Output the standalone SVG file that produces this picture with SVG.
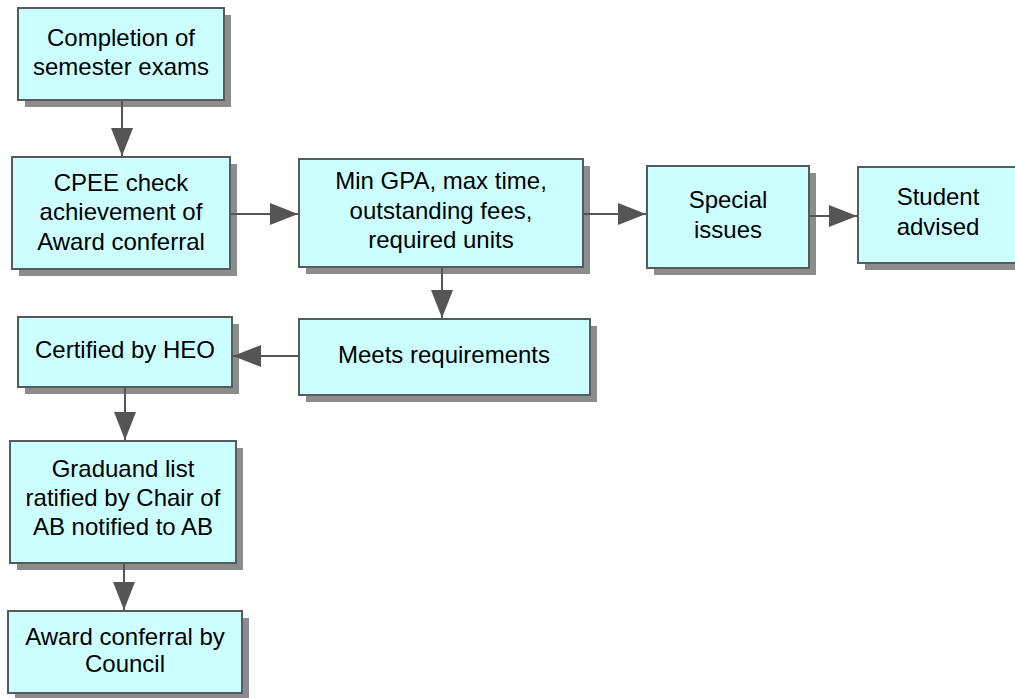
<svg xmlns="http://www.w3.org/2000/svg" width="1015" height="698" viewBox="0 0 1015 698">
<style>
.sh{fill:#8c8c8c}
.bx{fill:#ccffff;stroke:#555b5b;stroke-width:2}
.t{font-family:"Liberation Sans",Arial,sans-serif;font-size:24px;fill:#000;text-anchor:middle}
.c{stroke:#555;stroke-width:2;fill:none;marker-end:url(#ah)}
</style>
<defs>
<marker id="ah" markerUnits="userSpaceOnUse" markerWidth="28" markerHeight="22" refX="28" refY="11" orient="auto">
<path d="M0,0 L28,11 L0,22 Z" fill="#555"/>
</marker>
</defs>
<rect width="1015" height="698" fill="#fff"/>
<g id="n1">
<rect class="sh" x="25" y="15" width="206" height="92"/>
<rect class="bx" x="18" y="8" width="206" height="92"/>
<text class="t" x="121" y="46">Completion of</text>
<text class="t" x="121" y="75">semester exams</text>
</g>
<g id="n2">
<rect class="sh" x="19" y="164" width="218" height="112"/>
<rect class="bx" x="12" y="157" width="218" height="112"/>
<text class="t" x="121" y="191">CPEE check</text>
<text class="t" x="121" y="220">achievement of</text>
<text class="t" x="121" y="250">Award conferral</text>
</g>
<g id="n3">
<rect class="sh" x="306" y="166" width="284" height="108"/>
<rect class="bx" x="299" y="159" width="284" height="108"/>
<text class="t" x="441" y="189">Min GPA, max time,</text>
<text class="t" x="441" y="219">outstanding fees,</text>
<text class="t" x="441" y="248">required units</text>
</g>
<g id="n4">
<rect class="sh" x="654" y="173" width="162" height="102"/>
<rect class="bx" x="647" y="166" width="162" height="102"/>
<text class="t" x="728" y="208">Special</text>
<text class="t" x="728" y="238">issues</text>
</g>
<g id="n5">
<rect class="sh" x="865" y="174" width="160" height="96"/>
<rect class="bx" x="858" y="167" width="160" height="96"/>
<text class="t" x="938" y="205">Student</text>
<text class="t" x="938" y="235">advised</text>
</g>
<g id="n6">
<rect class="sh" x="306" y="326" width="291" height="76"/>
<rect class="bx" x="299" y="319" width="291" height="76"/>
<text class="t" x="444" y="363">Meets requirements</text>
</g>
<g id="n7">
<rect class="sh" x="25" y="324" width="214" height="70"/>
<rect class="bx" x="18" y="317" width="214" height="70"/>
<text class="t" x="125" y="358">Certified by HEO</text>
</g>
<g id="n8">
<rect class="sh" x="17" y="448" width="226" height="122"/>
<rect class="bx" x="10" y="441" width="226" height="122"/>
<text class="t" x="123" y="477">Graduand list</text>
<text class="t" x="123" y="506">ratified by Chair of</text>
<text class="t" x="123" y="535">AB notified to AB</text>
</g>
<g id="n9">
<rect class="sh" x="15" y="618" width="234" height="82"/>
<rect class="bx" x="8" y="611" width="234" height="82"/>
<text class="t" x="125" y="645">Award conferral by</text>
<text class="t" x="125" y="672">Council</text>
</g>
<g id="connectors">
<line class="c" x1="122" y1="101" x2="122" y2="156"/>
<line class="c" x1="231" y1="214" x2="298" y2="214"/>
<line class="c" x1="584" y1="214" x2="646" y2="214"/>
<line class="c" x1="810" y1="216" x2="857" y2="216"/>
<line class="c" x1="442" y1="268" x2="442" y2="318"/>
<line class="c" x1="298" y1="356" x2="233" y2="356"/>
<line class="c" x1="125" y1="388" x2="125" y2="440"/>
<line class="c" x1="124" y1="564" x2="124" y2="610"/>
</g>
</svg>
